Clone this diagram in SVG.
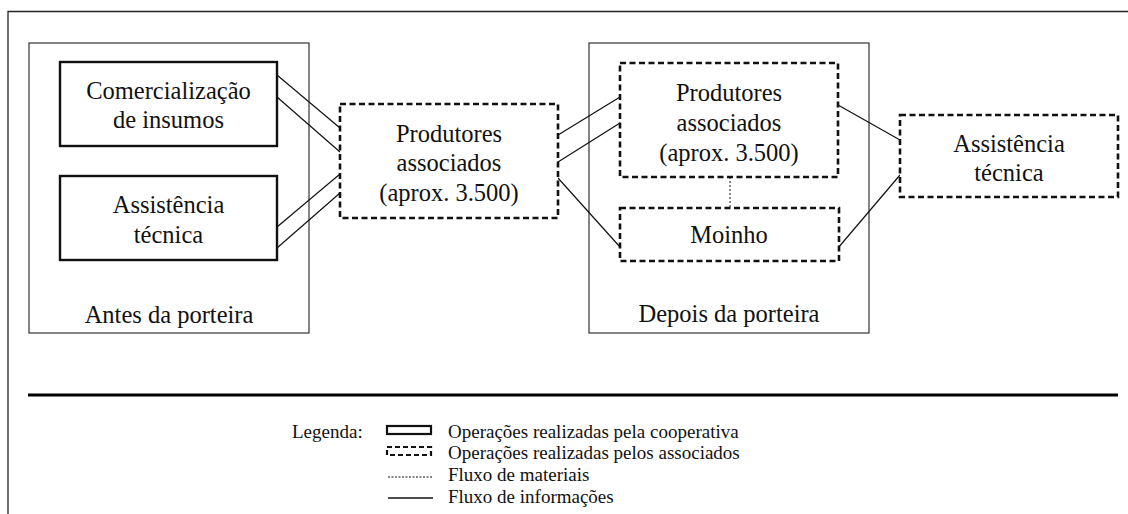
<svg xmlns="http://www.w3.org/2000/svg" width="1128" height="514" viewBox="0 0 1128 514" font-family="Liberation Serif">
<style>
text{font-family:"Liberation Serif","Times New Roman",serif;fill:#111}
.t{font-size:24.5px;text-anchor:middle}
.lg{font-size:19px;text-anchor:start}
.panel{fill:none;stroke:#333;stroke-width:1.2}
.coop{fill:#fff;stroke:#111;stroke-width:2.4}
.assoc{fill:#fff;stroke:#111;stroke-width:2.6;stroke-dasharray:6 3.5}
.info{fill:none;stroke:#111;stroke-width:1.2}
.mat{fill:none;stroke:#111;stroke-width:1;stroke-dasharray:2 2}
</style>
<rect width="1128" height="514" fill="#fff"/>
<path d="M8,514 V11.5 H1128" fill="none" stroke="#222" stroke-width="1.3"/>
<line x1="28" y1="395" x2="1118" y2="395" stroke="#000" stroke-width="3"/>

<g id="panel-antes">
<rect class="panel" x="29" y="43" width="280" height="290"/>
<text class="t" x="169" y="323">Antes da porteira</text>
</g>
<g id="panel-depois">
<rect class="panel" x="589" y="43" width="280" height="290"/>
<text class="t" x="729" y="322">Depois da porteira</text>
</g>

<g id="connectors">
<line class="info" x1="277" y1="75" x2="340" y2="128"/>
<line class="info" x1="277" y1="97" x2="340" y2="152"/>
<line class="info" x1="277" y1="227" x2="340" y2="174"/>
<line class="info" x1="277" y1="248" x2="340" y2="193"/>
<line class="info" x1="558" y1="135" x2="620" y2="97"/>
<line class="info" x1="558" y1="162" x2="620" y2="123"/>
<line class="info" x1="558" y1="178" x2="620" y2="247"/>
<line class="info" x1="838" y1="105" x2="900" y2="140"/>
<line class="info" x1="838" y1="248" x2="900" y2="175"/>
<line class="mat" x1="730" y1="177" x2="730" y2="208"/>
</g>

<g id="comercializacao">
<rect class="coop" x="60" y="62" width="217" height="84"/>
<text class="t" x="168.5" y="99">Comercialização</text>
<text class="t" x="168.5" y="128">de insumos</text>
</g>
<g id="assistencia-antes">
<rect class="coop" x="60" y="176" width="217" height="84"/>
<text class="t" x="168.5" y="213">Assistência</text>
<text class="t" x="168.5" y="243">técnica</text>
</g>
<g id="produtores-centro">
<rect class="assoc" x="340" y="104" width="218" height="114"/>
<text class="t" x="449" y="142">Produtores</text>
<text class="t" x="449" y="171">associados</text>
<text class="t" x="449" y="201">(aprox. 3.500)</text>
</g>
<g id="produtores-depois">
<rect class="assoc" x="620" y="63" width="218" height="114"/>
<text class="t" x="729" y="101">Produtores</text>
<text class="t" x="729" y="131">associados</text>
<text class="t" x="729" y="161">(aprox. 3.500)</text>
</g>
<g id="moinho">
<rect class="assoc" x="620" y="208" width="219" height="53"/>
<text class="t" x="729" y="243">Moinho</text>
</g>
<g id="assistencia-depois">
<rect class="assoc" x="900" y="115" width="218" height="82"/>
<text class="t" x="1009" y="152">Assistência</text>
<text class="t" x="1009" y="181">técnica</text>
</g>

<g id="legenda">
<text class="lg" x="292" y="438">Legenda:</text>
<rect x="387" y="426" width="44" height="8" fill="none" stroke="#111" stroke-width="2.2"/>
<rect x="387" y="447" width="44" height="8" fill="none" stroke="#111" stroke-width="2.2" stroke-dasharray="5 3"/>
<line x1="388" y1="477" x2="433" y2="477" stroke="#111" stroke-width="1" stroke-dasharray="2 1.5"/>
<line x1="388" y1="498" x2="433" y2="498" stroke="#111" stroke-width="1.3"/>
<text class="lg" x="448" y="438">Operações realizadas pela cooperativa</text>
<text class="lg" x="448" y="459">Operações realizadas pelos associados</text>
<text class="lg" x="448" y="481">Fluxo de materiais</text>
<text class="lg" x="448" y="503">Fluxo de informações</text>
</g>
</svg>
